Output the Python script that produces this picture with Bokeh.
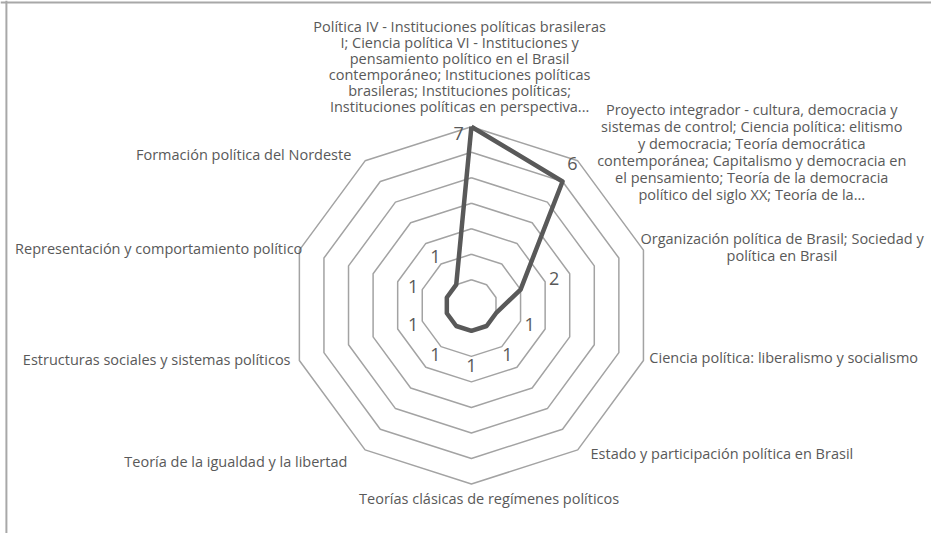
import math
from bokeh.plotting import figure
from bokeh.models import Range1d, Span
from bokeh.core.properties import value
from bokeh.embed import file_html
from bokeh.resources import INLINE

# ---- data ----
categories = [
    "Política IV - Instituciones políticas brasileras\nI; Ciencia política VI - Instituciones y\npensamiento político en el Brasil\ncontemporáneo; Instituciones políticas\nbrasileras; Instituciones políticas;\nInstituciones políticas en perspectiva...",
    "Proyecto integrador - cultura, democracia y\nsistemas de control; Ciencia política: elitismo\ny democracia; Teoría democrática\ncontemporánea; Capitalismo y democracia en\nel pensamiento; Teoría de la democracia\npolítico del siglo XX; Teoría de la...",
    "Organización política de Brasil; Sociedad y\npolítica en Brasil",
    "Ciencia política: liberalismo y socialismo",
    "Estado y participación política en Brasil",
    "Teorías clásicas de regímenes políticos",
    "Teoría de la igualdad y la libertad",
    "Estructuras sociales y sistemas políticos",
    "Representación y comportamiento político",
    "Formación política del Nordeste",
]
values = [7, 6, 2, 1, 1, 1, 1, 1, 1, 1]
rings = [1, 2, 3, 4, 5, 6, 7]

# ---- layout / style (design space 947x549, drawn into 931x533) ----
W, H = 931, 533
REF_W, REF_H = 947, 549
CX, CY = 479, 314          # centre in design px from top-left
U = 184 / 7                # design px per value unit
FONT = "Open Sans"
TXT = "#595959"
GRID = "#a3a3a3"
LINE = "#595959"

# (align, dx, dy, line_height) relative to outer vertex, design px (dy downward)
cat_style = [
    ("center", -12, -103, 16.4),
    ("center", 177, -53, 17.6),
    ("center", 141, -12, 17.0),
    ("left", 6, -3, 17.0),
    ("left", 13, 4, 17.0),
    ("center", 18, 15, 17.0),
    ("right", -18, 12, 17.0),
    ("right", -9, -1, 17.0),
    ("right", 3, -2, 17.0),
    ("right", -14, -7, 17.0),
]
dl_offsets = [(-13, 7), (10, -19), None, None, None, None, None, None, None, None]
RADIAL_GAP = 36

n = len(categories)
angles = [math.radians(90 - 360 / n * i) for i in range(n)]

x0, x1 = -CX / U, (REF_W - CX) / U
y0, y1 = -(REF_H - CY) / U, CY / U
p = figure(width=W, height=H, output_backend="svg", toolbar_location=None,
           x_range=Range1d(x0, x1), y_range=Range1d(y0, y1),
           min_border=0, outline_line_color=None)
p.axis.visible = False
p.grid.visible = False

# chart-area border (left and top only visible)
p.add_layout(Span(location=x0 + 6 / U, dimension="height", line_color="#a8a8a8", line_width=2))
p.add_layout(Span(location=y1 - 2 / U, dimension="width", line_color="#a8a8a8", line_width=2))

xs, ys = [], []
for r in rings:
    xs.append([r * math.cos(a) for a in angles] + [r * math.cos(angles[0])])
    ys.append([r * math.sin(a) for a in angles] + [r * math.sin(angles[0])])
p.multi_line(xs, ys, line_color=GRID, line_width=1.5)

dx = [v * math.cos(a) for v, a in zip(values, angles)]
dy = [v * math.sin(a) for v, a in zip(values, angles)]
p.line(dx + [dx[0]], dy + [dy[0]], line_color=LINE, line_width=4.5, line_join="round")

lx, ly = [], []
for i, (v, a) in enumerate(zip(values, angles)):
    off = dl_offsets[i]
    if off is None:
        ox, oy = RADIAL_GAP * math.cos(a), -RADIAL_GAP * math.sin(a)
    else:
        ox, oy = off
    lx.append(v * math.cos(a) + ox / U)
    ly.append(v * math.sin(a) - oy / U)
p.text(lx, ly, text=[str(v) for v in values], text_font=value(FONT), text_font_size="18px",
       text_color=TXT, text_align="center", text_baseline="middle")

Rmax = max(rings)
for cat, a, st in zip(categories, angles, cat_style):
    align, ox, oy, lh = st
    vx = Rmax * math.cos(a) + ox / U
    vy = Rmax * math.sin(a) - oy / U
    lines = cat.split("\n")
    p.text([vx] * len(lines), [vy - k * lh / U for k in range(len(lines))], text=lines,
           text_font=value(FONT), text_font_size="14.5px",
           text_color=TXT, text_align=align, text_baseline="middle")

open("out.html", "w").write(file_html(p, INLINE))
